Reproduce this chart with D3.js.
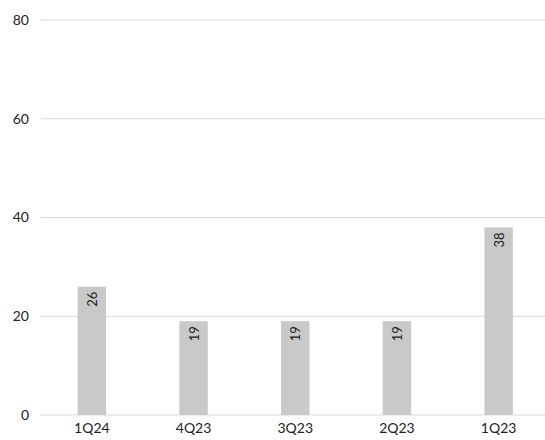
<!DOCTYPE html>
<html><head><meta charset="utf-8">
<script src="https://cdn.jsdelivr.net/npm/d3@7"></script>
<style>body{margin:0;background:#fff}svg{display:block}</style>
</head><body>
<svg id="c" width="545" height="440"></svg>
<script>
const categories = ["1Q24","4Q23","3Q23","2Q23","1Q23"];
const values = [26,19,19,19,38];
const yTicks = [0,20,40,60,80];

const svg = d3.select("#c");
const font = "Lato, 'Open Sans', sans-serif";
const x = d3.scaleBand().domain(categories).range([41,549.5]).paddingInner(0.72).paddingOuter(0.36);
const y = d3.scaleLinear().domain([0,80]).range([415,20]);

svg.append("g").selectAll("line").data(yTicks).join("line")
  .attr("x1",41).attr("x2",545).attr("y1",d=>y(d)).attr("y2",d=>y(d))
  .attr("stroke","#d9d9d9").attr("stroke-width",1.2);

const yAxis = svg.append("g").attr("transform","translate(29,0)")
  .call(d3.axisLeft(y).tickValues(yTicks).tickSize(0).tickPadding(0));
yAxis.select(".domain").remove();
yAxis.selectAll("text").attr("font-family",font).attr("font-size",14).attr("fill","#222");

svg.append("g").selectAll("rect").data(values).join("rect")
  .attr("x",(d,i)=>x(categories[i])).attr("width",x.bandwidth())
  .attr("y",d=>y(d)).attr("height",d=>y(0)-y(d)).attr("fill","#c9c9c9");

svg.append("g").selectAll("text").data(values).join("text")
  .attr("transform",(d,i)=>`translate(${x(categories[i])+x.bandwidth()/2+5},${y(d)+5}) rotate(-90)`)
  .attr("text-anchor","end").attr("font-family",font).attr("font-size",13).attr("fill","#222")
  .text(d=>d);

const xAxis = svg.append("g").attr("transform","translate(0,415)")
  .call(d3.axisBottom(x).tickSize(0).tickPadding(8));
xAxis.select(".domain").remove();
xAxis.selectAll("text").attr("font-family",font).attr("font-size",14).attr("fill","#222");
</script>
</body></html>
